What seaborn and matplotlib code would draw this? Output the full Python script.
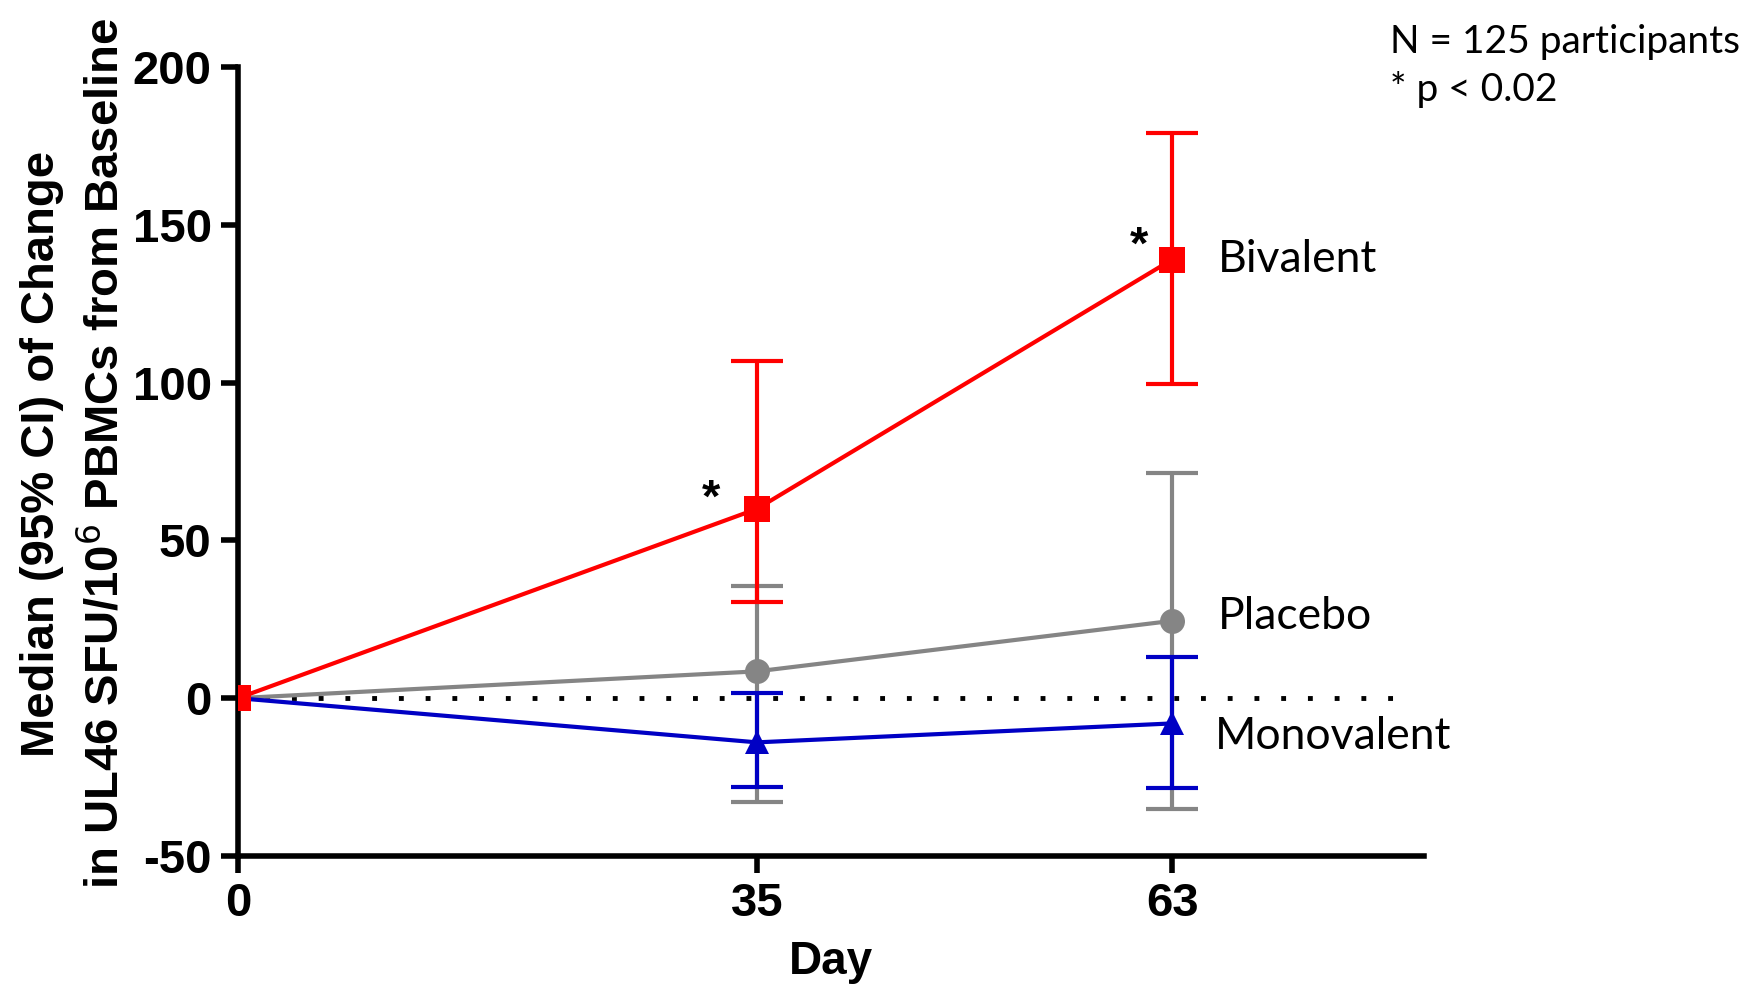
import pandas as pd
import matplotlib.pyplot as plt
import seaborn as sns

# values
days = [0, 35, 63]
groups = ["Placebo", "Monovalent", "Bivalent"]
placebo_med = [0, 8.5, 24.5]
placebo_lo = [0, -33, -35]
placebo_hi = [0, 35.5, 71.5]
mono_med = [0, -14, -8]
mono_lo = [0, -28, -28.5]
mono_hi = [0, 1.5, 13]
biv_med = [0, 60, 139]
biv_lo = [0, 30.5, 99.5]
biv_hi = [0, 107, 179]
colors = {"Placebo": "#858585", "Monovalent": "#0000C4", "Bivalent": "#FF0000"}
markers = {"Placebo": "o", "Monovalent": "^", "Bivalent": "s"}

df = pd.DataFrame({
    "day": days * 3,
    "group": ["Placebo"] * 3 + ["Monovalent"] * 3 + ["Bivalent"] * 3,
    "median": placebo_med + mono_med + biv_med,
    "lo": placebo_lo + mono_lo + biv_lo,
    "hi": placebo_hi + mono_hi + biv_hi,
})

sns.set_style("ticks")
plt.rcParams["font.family"] = ["Liberation Sans", "DejaVu Sans"]
plt.rcParams["text.color"] = "black"
plt.rcParams["axes.labelcolor"] = "black"
plt.rcParams["xtick.color"] = "black"
plt.rcParams["ytick.color"] = "black"
plt.rcParams["axes.edgecolor"] = "black"
plt.rcParams["axes.unicode_minus"] = False

fig = plt.figure(figsize=(17.54, 9.93), dpi=100)
ax = fig.add_axes([0.1357, 0.138, 0.6763, 0.7945])

# zero reference line
ax.plot([0, 78.5], [0, 0], color="black", lw=3.5, linestyle=(0, (1, 4.5)), zorder=1)

msize = {"Placebo": 18, "Monovalent": 17, "Bivalent": 19}
for i, g in enumerate(groups):
    sub = df[df["group"] == g]
    ci = sub[sub["day"] > 0]
    ax.errorbar(ci["day"], ci["median"],
                yerr=[ci["median"] - ci["lo"], ci["hi"] - ci["median"]],
                fmt="none", ecolor=colors[g], elinewidth=3, capsize=19,
                capthick=3, zorder=2 + i)
    sns.lineplot(data=sub, x="day", y="median", color=colors[g],
                 marker=markers[g], markersize=msize[g], markeredgewidth=0,
                 linewidth=3, ax=ax, zorder=2 + i, legend=False)

ax.set_xlim(0, 80)
ax.set_ylim(-50, 200)
ax.set_xticks(days)
ax.set_yticks([-50, 0, 50, 100, 150, 200])
for s in ["top", "right"]:
    ax.spines[s].set_visible(False)
for s in ["left", "bottom"]:
    ax.spines[s].set_linewidth(4)
ax.tick_params(width=4, length=12, labelsize=34, pad=7)
for lab in ax.get_xticklabels() + ax.get_yticklabels():
    lab.set_fontweight("bold")

ax.set_xlabel("Day", fontsize=33, fontweight="bold", labelpad=10)
ax.set_ylabel("Median (95% CI) of Change\nin UL46 SFU/10$^{6}$ PBMCs from Baseline",
              fontsize=34, fontweight="bold", linespacing=1.45)
ax.yaxis.set_label_coords(-0.093, 0.51)

# significance marks and group labels
txt_font = ["Lato", "DejaVu Sans"]
ax.text(31.9, 56, "*", fontsize=34, ha="center", va="bottom", fontweight="bold")
ax.text(60.8, 136, "*", fontsize=34, ha="center", va="bottom", fontweight="bold")
ax.text(66.1, 139, "Bivalent", fontsize=32, family=txt_font, va="center")
ax.text(66.1, 26, "Placebo", fontsize=32, family=txt_font, va="center")
ax.text(65.9, -12, "Monovalent", fontsize=32, family=txt_font, va="center")

fig.text(0.7926, 0.958, "N = 125 participants", fontsize=28, family=txt_font, va="center")
fig.text(0.7926, 0.910, "* p < 0.02", fontsize=28, family=txt_font, va="center")

plt.savefig("out.png", dpi=100)
